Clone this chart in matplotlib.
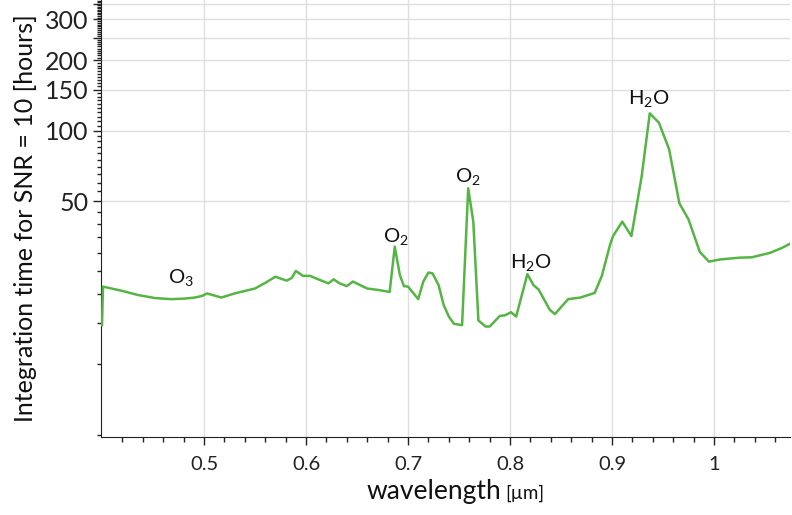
import numpy as np
import matplotlib
matplotlib.use("Agg")
import matplotlib.pyplot as plt
from matplotlib.ticker import FixedLocator, FixedFormatter

plt.rcParams['font.family'] = ['Lato', 'DejaVu Sans']
plt.rcParams['mathtext.fontset'] = 'custom'
plt.rcParams['mathtext.rm'] = 'Lato'
plt.rcParams['mathtext.it'] = 'Lato'

# wavelength [um] and integration time [hours]
wavelength = [0.400, 0.401, 0.420, 0.435, 0.452, 0.468, 0.481, 0.491, 0.498, 0.503,
              0.517, 0.530, 0.550, 0.560, 0.570, 0.581, 0.586, 0.590, 0.597, 0.604,
              0.612, 0.622, 0.627, 0.633, 0.640, 0.646, 0.660, 0.671, 0.682, 0.687,
              0.692, 0.696, 0.700, 0.710, 0.715, 0.720, 0.724, 0.730, 0.735, 0.740,
              0.745, 0.753, 0.759, 0.764, 0.769, 0.776, 0.780, 0.790, 0.795, 0.801,
              0.806, 0.817, 0.823, 0.828, 0.839, 0.844, 0.857, 0.869, 0.883, 0.890,
              0.898, 0.901, 0.910, 0.919, 0.929, 0.937, 0.946, 0.956, 0.966, 0.975,
              0.986, 0.995, 1.006, 1.025, 1.037, 1.055, 1.066, 1.075]
int_time = [14.7, 21.5, 20.6, 19.8, 19.2, 19.0, 19.1, 19.3, 19.6, 20.1,
            19.3, 20.1, 21.1, 22.3, 23.7, 22.8, 23.4, 25.1, 23.9, 23.9,
            23.1, 22.2, 23.1, 22.2, 21.6, 22.6, 21.1, 20.8, 20.4, 31.9,
            24.1, 21.6, 21.5, 19.0, 22.6, 24.7, 24.5, 21.8, 17.9, 16.0,
            14.9, 14.7, 56.7, 40.8, 15.4, 14.5, 14.5, 16.1, 16.2, 16.7,
            16.0, 24.3, 21.8, 20.9, 17.1, 16.4, 19.0, 19.3, 20.2, 23.9,
            32.4, 35.4, 40.8, 35.4, 63.5, 118.7, 108.2, 83.2, 48.9, 41.7,
            30.3, 27.5, 28.1, 28.6, 28.7, 30.0, 31.4, 32.9]

# absorption band labels
band_labels = [r'O$_3$', r'O$_2$', r'O$_2$', r'H$_2$O', r'H$_2$O']
band_x = [0.477, 0.688, 0.759, 0.820, 0.936]
band_y = [23.6, 35.2, 63.5, 27.4, 137.0]

yticks = [50, 100, 150, 200, 250, 300, 350]
ytick_labels = ['50', '100', '150', '200', '', '300', '']
xticks = [0.5, 0.6, 0.7, 0.8, 0.9, 1.0]
xtick_labels = ['0.5', '0.6', '0.7', '0.8', '0.9', '1']

fig = plt.figure(figsize=(7.92, 5.15), dpi=100)
ax = fig.add_axes([0.1275, 0.1515, 0.870, 0.8485])

ax.plot(wavelength, int_time, color='#55b544', lw=1.8, zorder=3)

ax.set_yscale('log')
ax.set_xlim(0.399, 1.0745)
ax.set_ylim(4.88, 363)

ax.yaxis.set_major_locator(FixedLocator(yticks))
ax.yaxis.set_major_formatter(FixedFormatter(ytick_labels))
ax.yaxis.set_minor_locator(FixedLocator(np.arange(5, 365, 5)))
ax.yaxis.set_minor_formatter(FixedFormatter([]))
ax.xaxis.set_major_locator(FixedLocator(xticks))
ax.xaxis.set_major_formatter(FixedFormatter(xtick_labels))
ax.xaxis.set_minor_locator(FixedLocator(np.arange(0.42, 1.08, 0.02)))

ax.grid(True, which='major', color='#dedede', lw=1.0)
ax.set_axisbelow(True)
for s in ['top', 'right']:
    ax.spines[s].set_visible(False)
ax.spines['left'].set_color('#222222')
ax.spines['bottom'].set_color('#222222')

ax.tick_params(which='major', direction='out', length=6, width=1, colors='#222222')
ax.tick_params(which='minor', direction='out', length=3.5, width=1, colors='#222222')
ax.tick_params(axis='y', which='minor', length=3)
ax.tick_params(axis='x', labelsize=14.5, pad=8)
ax.tick_params(axis='y', labelsize=18, pad=3)

for lbl, xx, yy in zip(band_labels, band_x, band_y):
    ax.text(xx, yy, lbl, fontsize=14.5, ha='center', va='center', color='#111111')

ax.set_ylabel('Integration time for SNR = 10 [hours]', fontsize=18, color='#111111', labelpad=6)
xl = ax.set_xlabel('wavelength', fontsize=19, color='#111111', labelpad=4)
ax.xaxis.label.set_x(0.483)
ax.annotate('[µm]', xy=(1, 0), xycoords=xl, xytext=(3, 1.5), textcoords='offset points',
            fontsize=13.5, ha='left', va='bottom', color='#111111')

fig.savefig('out.png', dpi=100)
